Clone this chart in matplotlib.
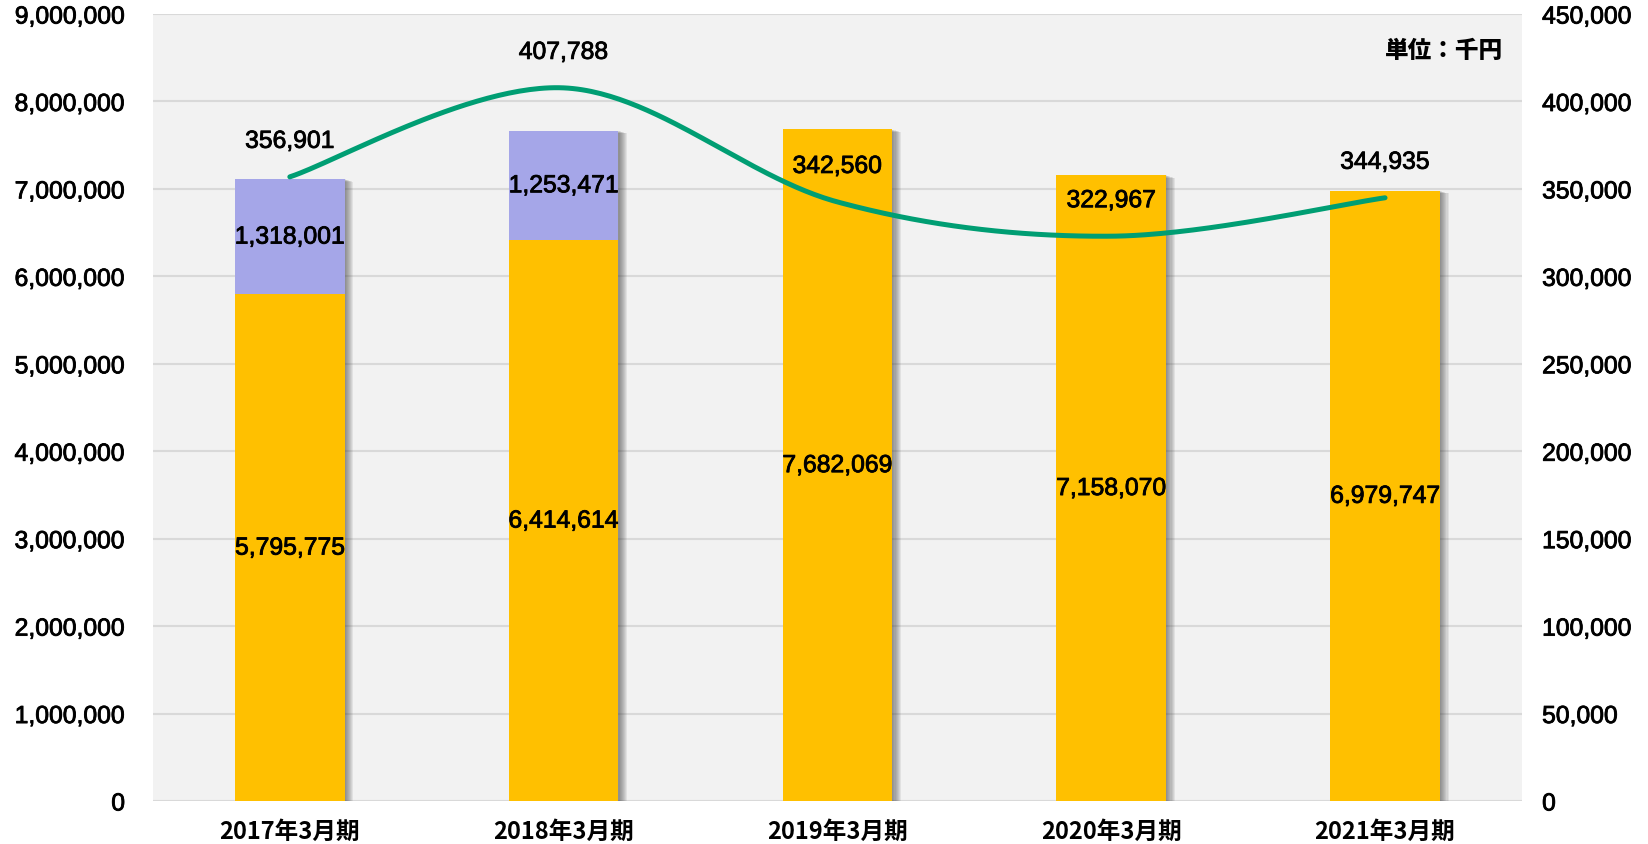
import numpy as np
import matplotlib
matplotlib.use("Agg")
import matplotlib.pyplot as plt
import matplotlib.patheffects as pe
from matplotlib.ticker import FuncFormatter, MultipleLocator

categories = ["2017年3月期", "2018年3月期", "2019年3月期", "2020年3月期", "2021年3月期"]
gold_values = [5795775, 6414614, 7682069, 7158070, 6979747]
purple_values = [1318001, 1253471, 0, 0, 0]
line_values = [356901, 407788, 342560, 322967, 344935]

GOLD = "#FFC000"
PURPLE = "#A5A6E8"
GREEN = "#009E73"
BG = "#F2F2F2"
GRID = "#D9D9D9"

plt.rcParams['font.family'] = ['Liberation Sans', 'Noto Sans CJK JP']

thick = [pe.withStroke(linewidth=0.6, foreground="black")]

fig = plt.figure(figsize=(16.48, 8.45), dpi=100)
ax = fig.add_axes([0.0928, 0.0509, 0.8307, 0.9313])
ax.set_facecolor(BG)
for s in ax.spines.values():
    s.set_visible(False)

x = np.arange(len(categories))
w = 0.40
totals = [g + p for g, p in zip(gold_values, purple_values)]

# soft shadow behind each full stack
shadow_fx = [pe.SimplePatchShadow(offset=(k * 0.8, -k * 0.25), shadow_rgbFace="#404040", alpha=0.09)
             for k in range(8, 0, -1)] + [pe.Normal()]
sb = ax.bar(x, totals, w, color=GOLD, zorder=2.5)
for b in sb:
    b.set_path_effects(shadow_fx)

b1 = ax.bar(x, gold_values, w, color=GOLD, zorder=3)
b2 = ax.bar(x, purple_values, w, bottom=gold_values, color=PURPLE, zorder=3)

ax.set_xlim(-0.5, 4.5)
ax.set_ylim(0, 9000000)
ax.yaxis.set_major_locator(MultipleLocator(1000000))
ax.yaxis.set_major_formatter(FuncFormatter(lambda v, p: f"{int(v):,}"))
ax.grid(axis="y", color=GRID, linewidth=1.5, zorder=0)
ax.set_axisbelow(True)
ax.tick_params(axis="y", length=0, pad=20, labelsize=17.8)
ax.tick_params(axis="x", length=0, pad=13)
ax.set_xticks(x)
ax.set_xticklabels(categories, fontsize=17, fontweight="bold", family=['Noto Sans CJK JP'])
for lab in ax.get_yticklabels():
    lab.set_path_effects(thick)

# bar labels
for i in range(len(x)):
    ax.text(x[i], gold_values[i] / 2, f"{gold_values[i]:,}", ha="center", va="center",
            fontsize=17.8, zorder=6, path_effects=thick)
    if purple_values[i] > 0:
        ax.text(x[i], gold_values[i] + purple_values[i] / 2, f"{purple_values[i]:,}",
                ha="center", va="center", fontsize=17.8, zorder=6, path_effects=thick)

ax2 = ax.twinx()
for s in ax2.spines.values():
    s.set_visible(False)
ax2.set_ylim(0, 450000)
ax2.yaxis.set_major_locator(MultipleLocator(50000))
ax2.yaxis.set_major_formatter(FuncFormatter(lambda v, p: f"{int(v):,}"))
ax2.tick_params(axis="y", length=0, pad=14.5, labelsize=17.8)
for lab in ax2.get_yticklabels():
    lab.set_path_effects(thick)

# smooth line (Bezier smoothing through the data points, as in spreadsheet charts)
px = np.array(x, dtype=float)
py = np.array(line_values, dtype=float)
P = np.column_stack([px, py])
Pext = np.vstack([P[0], P, P[-1]])
curve = []
t = np.linspace(0, 1, 60)
for i in range(len(P) - 1):
    p0, p1, p2, p3 = Pext[i], Pext[i + 1], Pext[i + 2], Pext[i + 3]
    c1 = p1 + (p2 - p0) / 6
    c2 = p2 - (p3 - p1) / 6
    seg = ((1 - t) ** 3)[:, None] * p1 + (3 * (1 - t) ** 2 * t)[:, None] * c1 + \
          (3 * (1 - t) * t ** 2)[:, None] * c2 + (t ** 3)[:, None] * p2
    curve.append(seg)
curve = np.vstack(curve)
ax2.plot(curve[:, 0], curve[:, 1], color=GREEN, linewidth=3.6, solid_capstyle="round", zorder=5)

for i in range(len(x)):
    ax2.annotate(f"{line_values[i]:,}", (px[i], py[i]), xytext=(0, 36), textcoords="offset pixels",
                 ha="center", va="center", fontsize=17.8, zorder=7, path_effects=thick)

ax.set_zorder(1)
ax2.set_zorder(2)
ax2.patch.set_visible(False)

ax2.text(0.986, 0.955, "単位：千円", transform=ax2.transAxes, ha="right", va="center",
         fontsize=17, fontweight="black", family=['Noto Sans CJK JP'])

fig.savefig("out.png", dpi=100)
